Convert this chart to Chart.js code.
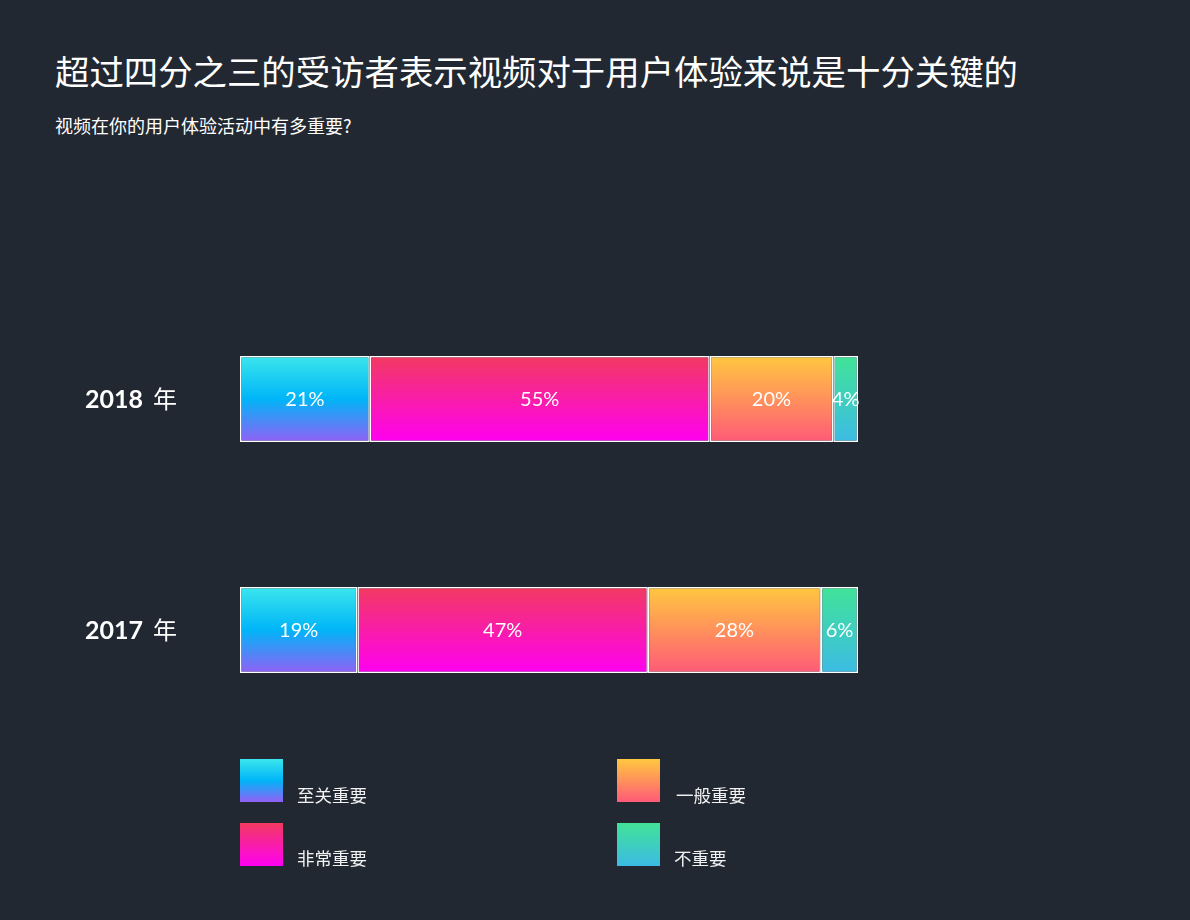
<!DOCTYPE html>
<html>
<head>
<meta charset="utf-8">
<script src="https://cdn.jsdelivr.net/npm/chart.js@4.4.1/dist/chart.umd.min.js"></script>
<style>
  html, body { margin:0; padding:0; background:#222831; }
  body { width:1190px; height:920px; position:relative; overflow:hidden; font-family:"Noto Sans CJK SC", "Noto Sans", sans-serif; color:#fff; }
  #title { position:absolute; left:55px; top:53px; font-size:34.4px; line-height:1; white-space:nowrap; font-weight:400; }
  #subtitle { position:absolute; left:55px; top:116px; font-size:18px; line-height:1; white-space:nowrap; }
  #wrap { position:absolute; left:0; top:0; width:1190px; height:920px; }
  .lg-box { position:absolute; width:43px; height:43px; }
  .lg-text { position:absolute; font-size:17.5px; line-height:1; white-space:nowrap; color:#f2f2f2; }
</style>
</head>
<body>
<div id="title">超过四分之三的受访者表示视频对于用户体验来说是十分关键的</div>
<div id="subtitle">视频在你的用户体验活动中有多重要?</div>
<div id="wrap"><canvas id="c"></canvas></div>
<div id="legend"></div>
<script>
// ---- data ----
const years = ['2018', '2017'];
const yearSuffix = '年';
const seriesNames = ['至关重要', '非常重要', '一般重要', '不重要'];
const critical = [21, 19];
const veryImportant = [55, 47];
const moderate = [20, 28];
const notImportant = [4, 6];
const seriesValues = [critical, veryImportant, moderate, notImportant];
// gradient stops (top -> bottom) for each series
const seriesGradients = [
  ['#3be6ec', '#00b5f8', '#9160f5'],
  ['#f23a60', '#ff00f2'],
  ['#ffc83f', '#ff5a78'],
  ['#41e398', '#3cbbe4']
];

const BAR_FRACTION = 0.372;

function barGradient(ctx, stops) {
  const chart = ctx.chart;
  const area = chart.chartArea;
  const ys = chart.scales.y;
  if (!area || !ys) return stops[0];
  const band = (area.bottom - area.top) / years.length;
  const cy = ys.getPixelForValue(ctx.dataIndex);
  const h = band * BAR_FRACTION / 2;
  const g = chart.ctx.createLinearGradient(0, cy - h, 0, cy + h);
  stops.forEach((c, i) => g.addColorStop(i / (stops.length - 1), c));
  return g;
}

const datasets = seriesNames.map((name, i) => ({
  label: name,
  data: seriesValues[i],
  backgroundColor: (ctx) => barGradient(ctx, seriesGradients[i]),
  borderColor: '#ffffff',
  borderWidth: 1.5,
  borderSkipped: false,
  categoryPercentage: 1,
  barPercentage: BAR_FRACTION
}));

const valueLabels = {
  id: 'valueLabels',
  afterDatasetsDraw(chart) {
    const c = chart.ctx;
    c.save();
    c.fillStyle = '#ffffff';
    c.font = '400 20px Lato, "Open Sans", sans-serif';
    c.textAlign = 'center';
    c.textBaseline = 'middle';
    chart.data.datasets.forEach((ds, di) => {
      chart.getDatasetMeta(di).data.forEach((el, idx) => {
        const p = el.getCenterPoint();
        c.fillText(ds.data[idx] + '%', p.x, p.y + 1);
      });
    });
    c.restore();
  }
};

const yearLabels = {
  id: 'yearLabels',
  afterDraw(chart) {
    const c = chart.ctx;
    const ys = chart.scales.y;
    c.save();
    c.fillStyle = '#ffffff';
    c.textBaseline = 'alphabetic';
    c.textAlign = 'left';
    years.forEach((y, i) => {
      const cy = ys.getPixelForValue(i);
      c.font = '700 25px Lato, "Open Sans", sans-serif';
      c.fillText(y, 85, cy + 9);
      const w = c.measureText(y).width;
      c.font = '400 24px "Noto Sans CJK SC", sans-serif';
      c.fillText(yearSuffix, 85 + w + 10, cy + 9);
    });
    c.restore();
  }
};

new Chart(document.getElementById('c'), {
  type: 'bar',
  data: { labels: years, datasets },
  options: {
    indexAxis: 'y',
    responsive: true,
    maintainAspectRatio: false,
    animation: false,
    layout: { padding: { top: 283.5, bottom: 174.5, left: 240, right: 332 } },
    scales: {
      x: { stacked: true, min: 0, max: 100, display: false },
      y: { stacked: true, display: false }
    },
    plugins: { legend: { display: false }, tooltip: { enabled: false } }
  },
  plugins: [valueLabels, yearLabels]
});

// ---- HTML legend built from series ----
const legendPos = [
  { bx: 240, by: 759, tx: 297, ty: 786 },
  { bx: 240, by: 823, tx: 297, ty: 849 },
  { bx: 617, by: 759, tx: 676, ty: 786 },
  { bx: 617, by: 823, tx: 674, ty: 849 }
];
const lg = document.getElementById('legend');
seriesNames.forEach((name, i) => {
  const p = legendPos[i];
  const b = document.createElement('div');
  b.className = 'lg-box';
  b.style.left = p.bx + 'px';
  b.style.top = p.by + 'px';
  b.style.background = 'linear-gradient(to bottom, ' + seriesGradients[i].join(', ') + ')';
  lg.appendChild(b);
  const t = document.createElement('div');
  t.className = 'lg-text';
  t.style.left = p.tx + 'px';
  t.style.top = p.ty + 'px';
  t.textContent = name;
  lg.appendChild(t);
});
</script>
</body>
</html>
